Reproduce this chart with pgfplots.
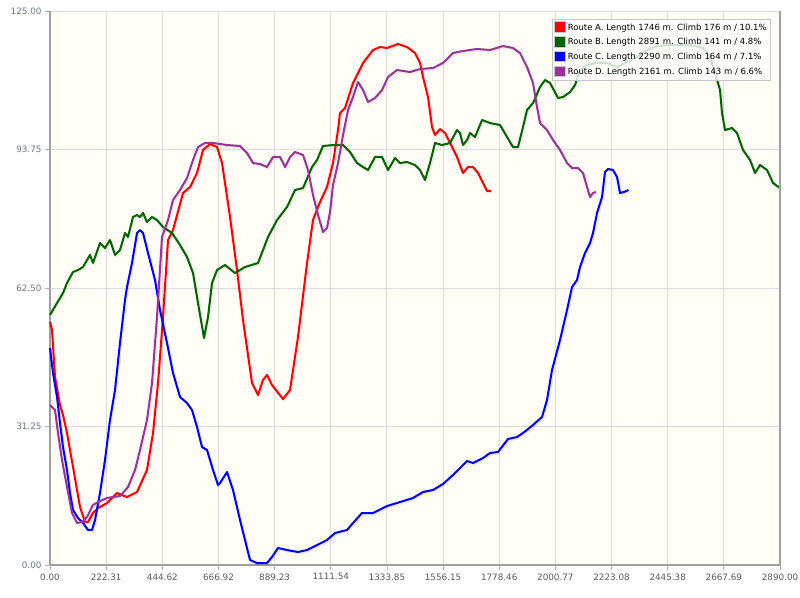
\documentclass[border=0pt]{standalone}
\usepackage{pgfplots}
\usepackage{pgfplotstable}
\pgfplotsset{compat=1.18}
\usepackage{fontspec}
\setmainfont{DejaVu Sans}
\definecolor{bgcream}{HTML}{FFFDF6}
\definecolor{gridc}{HTML}{DDDDDD}
\definecolor{routeA}{HTML}{FF0000}
\definecolor{routeB}{HTML}{006400}
\definecolor{routeC}{HTML}{0000FF}
\definecolor{routeD}{HTML}{993399}
\definecolor{ticklab}{HTML}{5A5A5A}
\definecolor{yticklab}{HTML}{6A778C}

\pgfplotstableread{
x y
0 54.83
7.9 53.02
19.8 42.42
39.6 36.10
51.5 33.84
67.3 29.78
91.1 22.11
118.8 13.09
138.6 9.70
150.4 9.70
170.2 11.73
190.0 12.86
225.7 13.99
265.3 16.25
304.8 15.34
344.4 16.47
384.0 21.43
407.8 29.78
427.6 41.06
447.4 55.96
467.2 73.33
487.0 75.59
526.5 83.93
554.3 85.29
582.0 88.45
605.7 93.64
633.4 94.99
661.2 94.31
681.0 90.70
712.6 78.52
740.3 66.56
764.1 55.28
799.7 41.06
823.5 38.36
843.3 41.74
859.1 42.87
878.9 40.61
922.4 37.45
950.2 39.49
981.8 51.44
1017.5 68.14
1041.2 77.84
1068.9 81.90
1096.6 85.29
1120.4 90.70
1140.2 98.15
1148.1 101.99
1167.9 103.11
1199.6 108.75
1239.2 113.27
1278.8 116.20
1306.5 116.88
1334.2 116.65
1377.7 117.55
1413.4 116.88
1445.0 115.52
1464.8 113.27
1476.7 110.11
1496.5 105.59
1512.3 98.83
1524.2 97.02
1544.0 98.37
1563.8 97.47
1583.6 95.22
1611.3 92.06
1635.1 88.45
1654.9 89.80
1674.7 89.80
1694.5 88.45
1714.2 86.19
1730.1 84.39
1746 84.39
}\routeAtab

\pgfplotstableread{
x y
0 56.41
27.7 59.12
51.5 61.37
67.3 63.63
91.1 66.11
110.9 66.56
130.6 67.24
158.4 69.95
170.2 68.14
197.9 72.65
217.7 71.52
237.5 73.33
257.3 69.95
277.1 71.07
296.9 74.91
308.8 74.01
328.6 78.52
344.4 78.97
356.3 78.52
368.2 79.42
384.0 77.39
403.8 78.52
423.6 77.84
447.4 76.26
483.0 74.91
514.7 72.20
542.4 69.49
566.1 65.88
585.9 59.12
609.7 51.22
625.5 55.96
641.4 63.63
661.2 66.56
692.8 67.69
732.4 65.88
772.0 67.24
823.5 68.14
863.1 74.01
898.7 77.84
938.3 80.78
970.0 84.61
1001.6 85.06
1037.3 89.80
1057.1 91.38
1080.8 94.54
1120.4 94.76
1160.0 94.76
1187.7 93.19
1215.4 90.70
1239.2 89.80
1259.0 89.12
1286.7 92.06
1314.4 92.06
1338.1 89.12
1365.9 91.83
1385.7 90.70
1413.4 90.93
1445.0 90.25
1464.8 89.12
1484.6 86.87
1504.4 90.70
1524.2 95.22
1551.9 94.76
1583.6 95.22
1611.3 98.15
1623.2 97.47
1635.1 94.76
1650.9 95.89
1662.8 97.47
1682.6 96.57
1710.3 100.41
1742.0 99.73
1781.6 99.28
1809.3 96.57
1833.0 94.31
1852.8 94.31
1872.6 98.83
1888.4 102.66
1912.2 104.24
1939.9 107.85
1959.7 109.43
1979.5 108.75
2011.2 105.37
2031.0 105.59
2058.7 106.72
2078.5 108.30
2098.3 111.69
2126.0 112.82
2165.6 113.27
2205.2 113.27
2244.8 112.36
2284.3 113.49
2323.9 114.62
2363.5 116.20
2403.1 117.10
2466.5 117.33
2533.8 117.33
2585.2 116.65
2612.9 114.62
2632.7 111.01
2652.5 107.17
2660.4 101.99
2672.3 98.15
2700.0 98.60
2719.8 97.47
2743.5 93.64
2771.3 91.38
2791.1 88.45
2810.9 90.25
2838.6 89.12
2862.4 86.19
2890 85.06
}\routeBtab

\pgfplotstableread{
x y
0 48.96
11.9 43.32
27.7 37.91
39.6 32.04
51.5 26.62
67.3 21.43
79.2 16.25
91.1 12.41
110.9 10.60
130.6 9.48
150.4 7.90
166.3 7.90
178.2 10.15
197.9 16.25
217.7 23.69
237.5 32.72
257.3 39.49
277.1 50.09
296.9 59.79
304.8 62.72
324.6 68.14
344.4 74.91
356.3 75.59
368.2 74.91
388.0 70.40
415.7 64.30
435.5 57.54
463.2 50.09
487.0 43.32
514.7 37.91
542.4 36.55
562.2 34.97
582.0 31.14
601.8 26.62
621.6 25.95
645.3 21.43
665.1 18.05
673.0 18.50
700.7 20.98
724.5 16.92
752.2 10.15
791.8 1.13
819.5 0.45
859.1 0.45
878.9 1.81
902.7 3.84
938.3 3.38
981.8 2.93
1017.5 3.38
1057.1 4.51
1096.6 5.64
1128.3 7.22
1175.8 7.90
1199.6 9.48
1235.2 11.73
1278.8 11.73
1334.2 13.31
1385.7 14.21
1437.1 15.12
1476.7 16.47
1516.3 16.92
1555.9 18.28
1595.5 20.31
1650.9 23.47
1674.7 23.01
1714.2 24.14
1742.0 25.27
1773.6 25.50
1813.2 28.43
1848.9 28.88
1872.6 29.78
1912.2 31.59
1947.8 33.39
1967.6 37.23
1987.4 44.00
2019.1 50.77
2046.8 57.54
2066.6 62.72
2086.4 64.30
2098.3 67.24
2118.1 70.40
2137.9 72.65
2149.7 74.91
2165.6 79.42
2185.4 83.03
2197.2 88.67
2209.1 89.35
2228.9 89.12
2244.8 87.54
2256.6 83.93
2272.5 84.16
2290 84.61
}\routeCtab

\pgfplotstableread{
x y
0 36.10
19.8 34.97
31.7 29.78
47.5 23.69
67.3 17.60
87.1 11.73
106.9 9.48
126.7 9.70
146.5 10.83
170.2 13.54
197.9 14.44
225.7 15.12
249.4 15.34
277.1 15.57
308.8 17.60
336.5 21.43
356.3 25.95
384.0 32.72
403.8 41.06
423.6 55.96
443.4 74.01
467.2 77.84
487.0 82.35
514.7 84.61
542.4 87.32
566.1 91.38
585.9 94.31
613.6 95.22
645.3 95.22
700.7 94.76
752.2 94.54
779.9 92.96
803.7 90.70
831.4 90.48
859.1 89.80
882.9 92.06
910.6 92.06
930.4 89.80
950.2 92.06
970.0 93.19
1001.6 92.51
1021.4 89.12
1041.2 83.48
1061.0 78.97
1080.8 75.13
1096.6 76.04
1108.5 79.65
1120.4 85.74
1140.2 90.70
1160.0 97.02
1179.8 102.66
1199.6 105.59
1219.4 108.98
1239.2 107.17
1259.0 104.47
1286.7 105.37
1314.4 107.17
1338.1 110.11
1373.8 111.69
1425.2 111.24
1464.8 111.91
1516.3 112.14
1555.9 113.27
1595.5 115.52
1635.1 115.97
1690.5 116.43
1742.0 116.20
1793.4 117.10
1833.0 116.65
1860.7 115.52
1888.4 112.36
1912.2 108.75
1928.0 103.34
1939.9 99.73
1967.6 98.15
1991.4 95.89
2019.1 93.64
2046.8 90.70
2066.6 89.57
2090.4 89.57
2110.2 88.45
2126.0 85.29
2137.9 83.03
2149.7 83.93
2161 84.16
}\routeDtab

\begin{document}
\begin{tikzpicture}
\path[use as bounding box] (-50pt,-32pt) rectangle (750pt,565pt);
\begin{axis}[
  scale only axis,
  width=730pt, height=554pt,
  xmin=0, xmax=2890, ymin=0, ymax=125,
  axis background/.style={fill=bgcream},
  axis x line*=bottom, axis y line*=left,
  axis line style={draw=gray!75, line width=1.6pt},
  xtick={0,222.31,444.62,666.92,889.23,1111.54,1333.85,1556.15,1778.46,2000.77,2223.08,2445.38,2667.69,2890},
  ytick={0,31.25,62.5,93.75,125},
  xticklabel style={font=\fontsize{8.8}{10}\selectfont, text=ticklab},
  yticklabel style={font=\fontsize{8.8}{10}\selectfont, text=yticklab},
  /pgf/number format/assume math mode=true,
  /pgf/number format/fixed, /pgf/number format/fixed zerofill,
  /pgf/number format/precision=2, /pgf/number format/1000 sep={},
  scaled ticks=false,
  tick align=outside, major tick length=5pt,
  tick style={draw=gray!60, line width=0.8pt},
  grid=major, major grid style={draw=gridc, line width=0.9pt},
  clip=false,
  legend cell align=left,
  legend style={at={(rel axis cs:0.9877,0.9856)}, anchor=north east,
    fill=white, fill opacity=0.8, text opacity=1, draw=gray!45, line width=0.6pt,
    font=\fontsize{8.5}{10}\selectfont, inner xsep=2pt, inner ysep=2pt,
    row sep=2.6pt},
  legend image code/.code={\filldraw[#1, draw=gray!45, line width=0.5pt, opacity=1] (0pt,-4.5pt) rectangle (11pt,6pt);},
]
\addplot[black, opacity=0.07, line width=3pt, xshift=1pt, yshift=-1.2pt, forget plot, line join=round] table {\routeAtab};
\addplot[black, opacity=0.07, line width=3pt, xshift=1pt, yshift=-1.2pt, forget plot, line join=round] table {\routeBtab};
\addplot[black, opacity=0.07, line width=3pt, xshift=1pt, yshift=-1.2pt, forget plot, line join=round] table {\routeCtab};
\addplot[black, opacity=0.07, line width=3pt, xshift=1pt, yshift=-1.2pt, forget plot, line join=round] table {\routeDtab};
\addplot[routeA, line width=2pt, line join=round] table {\routeAtab};
\addlegendentry{Route A. Length 1746 m. Climb 176 m / 10.1\%}
\addplot[routeB, line width=2pt, line join=round] table {\routeBtab};
\addlegendentry{Route B. Length 2891 m. Climb 141 m / 4.8\%}
\addplot[routeC, line width=2pt, line join=round] table {\routeCtab};
\addlegendentry{Route C. Length 2290 m. Climb 164 m / 7.1\%}
\addplot[routeD, line width=2pt, line join=round] table {\routeDtab};
\addlegendentry{Route D. Length 2161 m. Climb 143 m / 6.6\%}
\draw[gray!75, line width=1.6pt] (rel axis cs:1,0) -- (rel axis cs:1,1);
\end{axis}
\end{tikzpicture}
\end{document}
